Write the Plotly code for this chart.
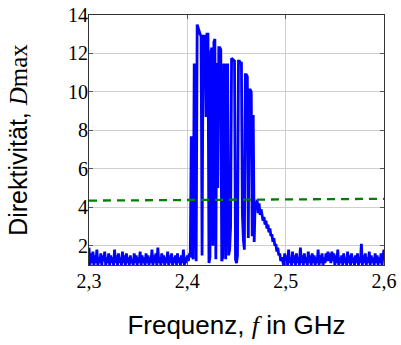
import numpy as np
import plotly.graph_objects as go

# Frequency grid (GHz), 1 MHz steps from 2.300 to 2.600
freq_start = 2.300
freq_step = 0.001

# Directivity values
d_noise_left = [
    1.9,1.0,1.6,1.1,1.7,1.0,1.5,1.1,1.8,1.0,1.4,1.1,1.6,1.0,1.5,1.2,1.7,1.0,1.4,1.1,
    1.6,1.0,1.5,1.1,1.4,1.0,1.8,1.1,1.5,1.0,1.6,1.1,1.4,1.0,1.7,1.1,1.5,1.0,1.6,1.1,
    1.4,1.0,1.5,1.1,1.3,1.0,1.6,1.1,1.5,1.0,1.4,1.1,1.7,1.0,1.5,1.1,1.4,1.0,1.6,1.1,
    1.5,1.0,1.4,1.1,1.8,1.0,1.5,1.1,1.6,1.0,1.9,1.1,1.4,1.0,1.6,1.1,1.5,1.0,1.4,1.1,
    1.7,1.0,1.5,1.1,1.6,1.0,1.4,1.1,1.5,1.0,1.6,1.1,1.4,1.0,1.5,1.1,1.8,1.0,1.4,1.1,
    1.5,1.2,1.6,
]
d_band = [
    1.4,7.7,1.5,1.3,11.4,11.4,1.2,13.5,13.3,13.1,13.0,12.9,1.5,12.9,12.9,12.9,8.7,13.0,
    13.0,1.1,1.4,12.1,12.3,2.0,12.6,12.75,1.3,11.5,5.0,12.3,12.3,12.2,1.2,1.4,11.4,11.4,
    1.3,11.4,11.4,1.5,1.8,3.0,11.75,11.7,11.7,11.6,1.3,1.1,1.5,11.6,11.6,11.5,11.5,3.6,
    2.3,1.8,10.9,10.9,10.8,2.4,10.1,10.1,10.0,2.5,8.8,2.2,
]
d_decline = [
    4.3,4.0,4.4,3.7,4.2,3.6,3.9,3.6,3.3,3.5,3.1,3.3,2.9,3.1,2.7,2.9,2.5,2.6,2.2,2.4,
    2.0,2.1,1.7,1.9,1.5,1.6,1.2,1.4,
]
d_noise_right = [
    1.2,1.0,1.6,1.1,1.5,1.0,1.8,1.1,1.4,1.0,1.7,1.1,1.5,1.0,1.6,1.1,1.4,1.0,1.9,1.1,
    1.5,1.0,1.6,1.1,1.4,1.0,1.7,1.1,1.5,1.0,1.6,1.1,1.5,1.0,1.4,1.1,1.8,1.0,1.5,1.1,
    1.6,1.0,1.4,1.1,1.6,1.2,1.7,1.2,1.6,1.1,1.7,1.2,1.6,1.0,1.5,1.1,1.8,1.0,1.4,1.1,
    1.5,1.0,1.6,1.1,1.4,1.0,1.7,1.1,1.5,1.0,1.6,1.1,1.4,1.0,1.5,1.1,1.6,1.0,1.4,1.1,
    2.1,1.0,1.5,1.1,1.6,1.0,1.4,1.1,1.7,1.0,1.5,1.1,1.4,1.0,1.6,1.1,1.5,1.0,1.4,1.1,
    1.6,1.0,1.5,1.8,
]

# Reference (dashed) line endpoints
ref_f = [2.3, 2.6]
ref_d = [4.35, 4.44]

x_ticks = [2.3, 2.4, 2.5, 2.6]
x_ticklabels = ["2,3", "2,4", "2,5", "2,6"]
y_ticks = [2, 4, 6, 8, 10, 12, 14]
y_ticklabels = ["2", "4", "6", "8", "10", "12", "14"]

d_values = np.array(d_noise_left + d_band + d_decline + d_noise_right)
freqs = freq_start + freq_step * np.arange(len(d_values))

fig = go.Figure()
fig.add_trace(go.Scatter(x=freqs, y=d_values, mode="lines",
                         line=dict(color="#0000ff", width=2.8), showlegend=False,
                         hoverinfo="skip"))
fig.add_trace(go.Scatter(x=ref_f, y=ref_d, mode="lines",
                         line=dict(color="#008000", width=2.3, dash="8px,6px"),
                         showlegend=False, hoverinfo="skip"))

serif = "Liberation Serif"
sans = "Liberation Sans"

axis_common = dict(
    showgrid=True, gridcolor="#cfcfcf", gridwidth=1,
    showline=True, linecolor="#333333", linewidth=1, mirror="ticks",
    ticks="inside", ticklen=4, tickcolor="#555555", tickwidth=1,
    zeroline=False, automargin=False, ticklabeloverflow="allow",
    tickfont=dict(family=serif, size=20, color="black"),
)

fig.update_layout(
    width=401, height=345,
    margin=dict(l=89, r=17, t=15, b=80),
    paper_bgcolor="white", plot_bgcolor="white",
    xaxis=dict(range=[2.3, 2.6], tickvals=x_ticks, ticktext=x_ticklabels,
               ticklabelstandoff=-2,
               title=dict(text="Frequenz, <span style='font-family:Liberation Serif'><i>f</i></span> in GHz",
                          font=dict(family=sans, size=26, color="black"), standoff=24),
               **axis_common),
    yaxis=dict(range=[1, 14], tickvals=y_ticks, ticktext=y_ticklabels,
               ticklabelstandoff=-4,
               title=dict(text="Direktivität, <span style='font-family:Liberation Serif'><i>D</i>max</span>",
                          font=dict(family=sans, size=25, color="black"), standoff=33),
               **axis_common),
)

# remove the default page margin so the 401x345 figure fills the window exactly
fig.write_html("out.html", config={"displayModeBar": False},
               post_script="document.body.style.margin='0';document.body.style.overflow='hidden';")
